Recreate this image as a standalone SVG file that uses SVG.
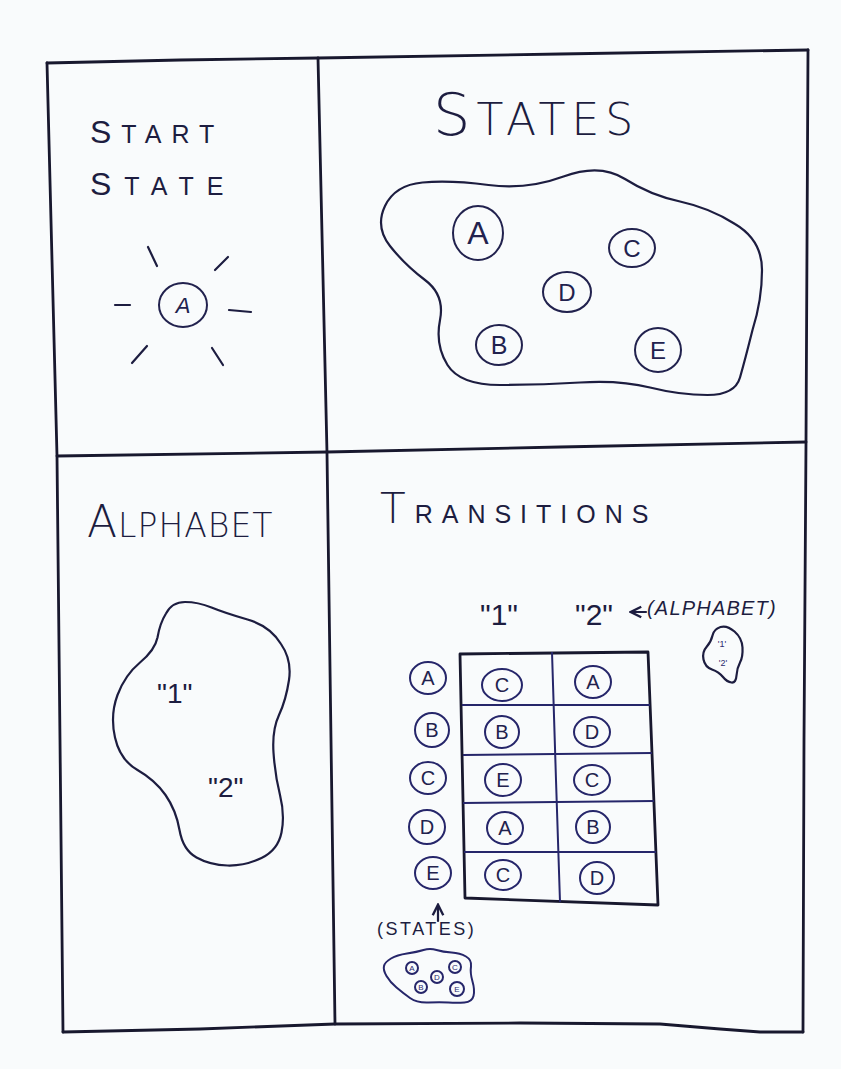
<svg xmlns="http://www.w3.org/2000/svg" width="841" height="1069" viewBox="0 0 841 1069">
<style>
  .ink{fill:none;stroke:#1d1d40;stroke-width:2.2;stroke-linecap:round;stroke-linejoin:round}
  .frame{fill:none;stroke:#18182e;stroke-width:2.8;stroke-linecap:round;stroke-linejoin:round}
  .st{fill:none;stroke:#22224e;stroke-width:2}
  .tb{fill:none;stroke:#26266a;stroke-width:2}
  .t{font-family:"Liberation Sans","DejaVu Sans",sans-serif;fill:#1d1d40}
  .tl{font-family:"DejaVu Sans","Liberation Sans",sans-serif;font-weight:200;fill:#1d1d40}
  .lt{font-family:"Liberation Sans","DejaVu Sans",sans-serif;fill:#22224e;text-anchor:middle}
  .small{font-family:"Liberation Sans","DejaVu Sans",sans-serif;fill:#2a2a70;text-anchor:middle}
</style>
<defs>
  <marker id="ah" viewBox="0 0 10 10" refX="8" refY="5" markerWidth="6" markerHeight="6" orient="auto">
    <path d="M1,1 L9,5 L1,9" fill="none" stroke="#1d1d40" stroke-width="1.8"/>
  </marker>
</defs>
<rect width="841" height="1069" fill="#f9fbfc"/>

<g id="frame">
  <path class="frame" d="M47,63 L180,60 L318,58 L560,54 L808,50"/>
  <path class="frame" d="M47,63 L52,260 L57,456 L60,740 L63,1032"/>
  <path class="frame" d="M808,50 L806,443 L804,740 L803,1032"/>
  <path class="frame" d="M63,1032 L200,1029 L335,1024 L520,1023 L660,1024 L720,1029 L760,1032 L803,1032"/>
  <path class="frame" d="M318,58 L327,453 L331,740 L335,1024"/>
  <path class="frame" d="M57,456 L327,452 L560,447 L806,442"/>
</g>

<g id="start-state">
  <text class="t" x="90" y="143" letter-spacing="10"><tspan font-size="32">S</tspan><tspan font-size="25">TART</tspan></text>
  <text class="t" x="90" y="195" letter-spacing="13"><tspan font-size="32">S</tspan><tspan font-size="25">TATE</tspan></text>
  <ellipse class="st" cx="183" cy="305" rx="24" ry="22"/>
  <text class="lt" x="183" y="313" font-size="22" font-style="italic">A</text>
  <g class="ink">
    <line x1="148" y1="247" x2="157" y2="266"/>
    <line x1="215" y1="270" x2="228" y2="257"/>
    <line x1="115" y1="305" x2="130" y2="305"/>
    <line x1="229" y1="310" x2="251" y2="312"/>
    <line x1="132" y1="363" x2="147" y2="346"/>
    <line x1="212" y1="348" x2="223" y2="365"/>
  </g>
</g>

<g id="states">
  <text class="tl" x="433" y="135" letter-spacing="6"><tspan font-size="59">S</tspan><tspan font-size="44">TATES</tspan></text>
  <path class="ink" d="M385,206 Q395,185 422.5,182.5 Q450,180 488.5,185 Q527,190 563.5,176.5 Q600,163 625,179 Q650,195 680,201.5 Q710,208 735,224 Q762,240 762,270 Q762,300 752.5,330 Q745,360 740,377.5 Q735,395 707.5,395 Q680,395 650,387.5 Q620,380 580,382.5 Q540,385 500,385 Q460,385 447.5,365 Q435,345 440,320 Q445,295 425,280 Q405,265 390,246 Q375,227 385,206 Z"/>
  <g id="state-A"><ellipse class="st" cx="478" cy="233" rx="25" ry="27"/><text class="lt" x="478" y="244" font-size="32">A</text></g>
  <g id="state-C"><ellipse class="st" cx="632" cy="248" rx="23" ry="19"/><text class="lt" x="632" y="257" font-size="24">C</text></g>
  <g id="state-D"><ellipse class="st" cx="567" cy="292" rx="24" ry="20"/><text class="lt" x="567" y="301" font-size="24">D</text></g>
  <g id="state-B"><ellipse class="st" cx="499" cy="345" rx="23" ry="20"/><text class="lt" x="499" y="354" font-size="25">B</text></g>
  <g id="state-E"><ellipse class="st" cx="658" cy="350" rx="23" ry="22"/><text class="lt" x="658" y="359" font-size="24">E</text></g>
</g>

<g id="alphabet">
  <text class="tl" x="87" y="537" letter-spacing="1"><tspan font-size="44">A</tspan><tspan font-size="33">LPHABET</tspan></text>
  <path class="ink" d="M211.5,607.5 Q225,613 247.5,619.5 Q270,626 281,644 Q292,660 289,680 Q286,700 279,715 Q272,730 273.5,752.5 Q275,775 280,795 Q285,815 281.5,832.5 Q278,850 261.5,858 Q245,866 227.5,865.5 Q210,865 196.5,857.5 Q183,850 179.5,830 Q176,810 165.5,795 Q155,780 137.5,770 Q120,760 115,737.5 Q110,715 117.5,695 Q125,675 140,662.5 Q155,650 157.5,637.5 Q160,623 166,613.5 Q172,602 185,602 Q198,602 211.5,607.5 Z"/>
  <text class="t" x="157" y="703" font-size="28">"1"</text>
  <text class="t" x="208" y="797" font-size="28">"2"</text>
</g>

<g id="transitions">
  <text class="t" x="380" y="523" letter-spacing="9"><tspan class="tl" font-size="42">T</tspan><tspan font-size="25">RANSITIONS</tspan></text>
  <text class="t" x="480" y="625" font-size="30">"1"</text>
  <text class="t" x="575" y="625" font-size="30">"2"</text>
  <text class="t" x="647" y="615" font-size="20" font-style="italic" letter-spacing="1.2">(ALPHABET)</text>
  <g id="mini-alphabet">
    <path class="ink" stroke-width="1.6" d="M734.5,631.5 Q742,638 742.5,647.5 Q743,657 740,662.5 Q737,668 736.5,675.5 Q736,683 731.5,682.5 Q727,682 723,677 Q719,672 712,669.5 Q705,667 703.5,659.5 Q702,652 706.5,647 Q711,642 712.5,635.5 Q714,629 720.5,627 Q727,625 734.5,631.5 Z"/>
    <text class="small" x="722" y="647" font-size="9">'1'</text>
    <text class="small" x="723" y="666" font-size="9">'2'</text>
  </g>
  <g id="table">
    <path class="frame" stroke-width="2.6" d="M460,654 L648,652 L658,905 L465,898 Z"/>
    <path class="tb" d="M552,652 L556,780 L560,902"/>
    <path class="tb" d="M462,705 L650,705"/>
    <path class="tb" d="M463,755 L652,753"/>
    <path class="tb" d="M463,803 L654,801"/>
    <path class="tb" d="M464,852 L656,852"/>
  </g>
  <g id="row-labels">
    <g id="row-A"><ellipse class="tb" cx="428" cy="678" rx="18" ry="16"/><text class="lt" x="428" y="685" font-size="20">A</text></g>
    <g id="row-B"><ellipse class="tb" cx="432" cy="730" rx="17" ry="17"/><text class="lt" x="432" y="737" font-size="20">B</text></g>
    <g id="row-C"><ellipse class="tb" cx="428" cy="778" rx="18" ry="16"/><text class="lt" x="428" y="785" font-size="20">C</text></g>
    <g id="row-D"><ellipse class="tb" cx="427" cy="827" rx="18" ry="17"/><text class="lt" x="427" y="834" font-size="20">D</text></g>
    <g id="row-E"><ellipse class="tb" cx="433" cy="873" rx="18" ry="16"/><text class="lt" x="433" y="880" font-size="20">E</text></g>
  </g>
  <g id="cells">
    <g id="cell-A1"><ellipse class="tb" cx="502" cy="685" rx="20" ry="16"/><text class="lt" x="502" y="692" font-size="20">C</text></g>
    <g id="cell-B1"><ellipse class="tb" cx="502" cy="732" rx="17" ry="16"/><text class="lt" x="502" y="739" font-size="20">B</text></g>
    <g id="cell-C1"><ellipse class="tb" cx="503" cy="780" rx="18" ry="16"/><text class="lt" x="503" y="787" font-size="20">E</text></g>
    <g id="cell-D1"><ellipse class="tb" cx="505" cy="828" rx="18" ry="16"/><text class="lt" x="505" y="835" font-size="20">A</text></g>
    <g id="cell-E1"><ellipse class="tb" cx="503" cy="875" rx="18" ry="15"/><text class="lt" x="503" y="882" font-size="20">C</text></g>
    <g id="cell-A2"><ellipse class="tb" cx="593" cy="682" rx="18" ry="16"/><text class="lt" x="593" y="689" font-size="20">A</text></g>
    <g id="cell-B2"><ellipse class="tb" cx="592" cy="732" rx="18" ry="15"/><text class="lt" x="592" y="739" font-size="20">D</text></g>
    <g id="cell-C2"><ellipse class="tb" cx="592" cy="780" rx="18" ry="15"/><text class="lt" x="592" y="787" font-size="20">C</text></g>
    <g id="cell-D2"><ellipse class="tb" cx="593" cy="827" rx="17" ry="16"/><text class="lt" x="593" y="834" font-size="20">B</text></g>
    <g id="cell-E2"><ellipse class="tb" cx="597" cy="878" rx="17" ry="16"/><text class="lt" x="597" y="885" font-size="20">D</text></g>
  </g>
  <text class="t" x="377" y="935" font-size="18" letter-spacing="2.5">(STATES)</text>
  <g id="mini-states">
    <path class="tb" stroke-width="1.6" d="M391,958.5 Q397,955 407,953.5 Q417,952 423.5,950 Q430,948 436.5,950 Q443,952 451.5,952.5 Q460,953 466,956.5 Q472,960 471,966.5 Q470,973 472.5,981.5 Q475,990 473.5,996 Q472,1002 464.5,1002.5 Q457,1003 448.5,1002.5 Q440,1002 428.5,1002.5 Q417,1003 410,998 Q403,993 396.5,987.5 Q390,982 386.5,976 Q383,970 384,966 Q385,962 391,958.5 Z"/>
    <circle class="tb" stroke-width="1.6" cx="412" cy="968" r="6"/><text class="small" x="412" y="971" font-size="8">A</text>
    <circle class="tb" stroke-width="1.6" cx="437" cy="977" r="6"/><text class="small" x="437" y="980" font-size="8">D</text>
    <circle class="tb" stroke-width="1.6" cx="455" cy="967" r="6"/><text class="small" x="455" y="970" font-size="8">C</text>
    <circle class="tb" stroke-width="1.6" cx="421" cy="987" r="6"/><text class="small" x="421" y="990" font-size="8">B</text>
    <circle class="tb" stroke-width="1.6" cx="457" cy="989" r="7"/><text class="small" x="457" y="992" font-size="8">E</text>
  </g>
</g>

<g id="connectors">
  <path class="ink" d="M646,612 L632,612" marker-end="url(#ah)"/>
  <path class="ink" d="M438,921 L438,906" marker-end="url(#ah)"/>
</g>
</svg>
